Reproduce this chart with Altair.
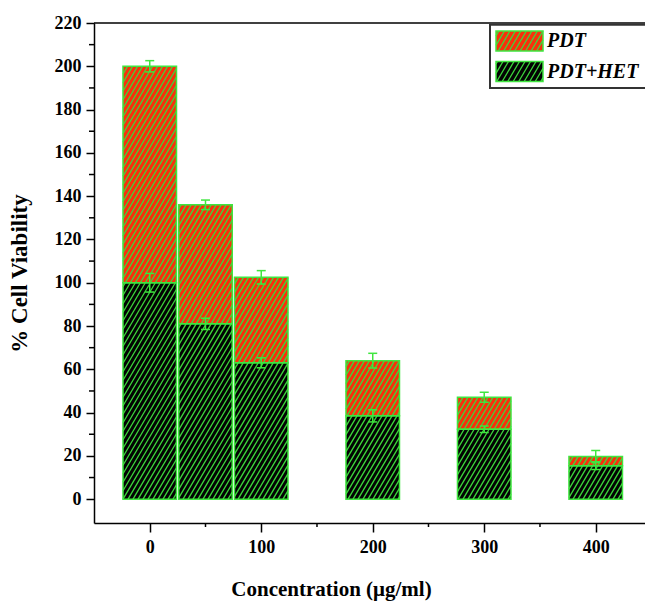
import math
import altair as alt
import pandas as pd

# ---------------- data ----------------
concentrations = [0, 50, 100, 200, 300, 400]
het_values = [100, 81, 63, 38.5, 32.3, 15.5]      # PDT+HET (lower, dark green)
het_errors = [4.3, 2.6, 2.3, 2.8, 1.5, 1.8]
pdt_values = [100, 55, 39.5, 25.5, 14.8, 4.2]     # PDT (stacked on top, red)
pdt_errors = [2.6, 2.2, 3.1, 3.4, 2.3, 2.8]
series_names = ["PDT", "PDT+HET"]
x_ticks = [0, 100, 200, 300, 400]
x_minor = [50, 150, 250, 350]
y_ticks = list(range(0, 221, 20))
y_minor = list(range(10, 211, 20))

# ---------------- layout / style ----------------
LEFT, TOP, W, H, BOTTOM = 94, 23, 551, 500, 80
XMIN, XMAX = -50, 444.2
YMIN, YMAX = -11, 220
KX = W / (XMAX - XMIN)
KY = H / (YMAX - YMIN)
HALF = 24
RED = "#f8300c"
DARK = "#030303"
GREEN = "#3fe63f"
HATCH = "#3cd83c"
FONT = "Liberation Serif"

X_SCALE = alt.Scale(domain=[XMIN, XMAX], nice=False, zero=False)
Y_SCALE = alt.Scale(domain=[YMIN, YMAX], nice=False, zero=False)


def px_to_x(px):
    return XMIN + (px - LEFT) / KX


def py_to_y(py):
    return YMIN + (TOP + H - py) / KY


def hatch(xa, xb, ya, yb, d, s=1.7):
    u0, u1 = (xa - XMIN) * KX, (xb - XMIN) * KX
    v0, v1 = (ya - YMIN) * KY, (yb - YMIN) * KY
    out = []
    for k in range(math.floor((u0 - v1 / s) / d), math.ceil((u1 - v0 / s) / d) + 1):
        c = k * d
        vlo = max(v0, s * (u0 - c))
        vhi = min(v1, s * (u1 - c))
        if vhi - vlo > 0.5:
            out.append({
                "hx": (c + vlo / s) / KX + XMIN, "hy": vlo / KY + YMIN,
                "hx2": (c + vhi / s) / KX + XMIN, "hy2": vhi / KY + YMIN,
            })
    return out


seg_rows = []
for c, h, p in zip(concentrations, het_values, pdt_values):
    seg_rows.append({"x0": c - HALF, "x1": c + HALF, "y0": 0, "y1": h, "series": series_names[1]})
    seg_rows.append({"x0": c - HALF, "x1": c + HALF, "y0": h, "y1": h + p, "series": series_names[0]})

sw = [
    {"x0": px_to_x(496), "x1": px_to_x(543), "y0": py_to_y(51), "y1": py_to_y(31), "series": series_names[0]},
    {"x0": px_to_x(496), "x1": px_to_x(543), "y0": py_to_y(81.5), "y1": py_to_y(61.5), "series": series_names[1]},
]
segs = pd.DataFrame(seg_rows + sw)

hatch_rows = []
for r in seg_rows:
    hatch_rows += hatch(r["x0"], r["x1"], r["y0"], r["y1"], 5.0)
for r in sw:
    hatch_rows += hatch(r["x0"], r["x1"], r["y0"], r["y1"], 5.5)
hatch_df = pd.DataFrame(hatch_rows)

err_rows = []
for c, h, he, p, pe in zip(concentrations, het_values, het_errors, pdt_values, pdt_errors):
    err_rows.append({"c": c, "lo": h - he, "hi": h + he})
    err_rows.append({"c": c, "lo": h + p - pe, "hi": h + p + pe})
err = pd.DataFrame(err_rows)

color_scale = alt.Scale(domain=series_names, range=[RED, DARK])

y_axis = alt.Axis(
    values=y_ticks, grid=False, tickSize=8, tickWidth=1.5, tickColor="black",
    domainColor="black", domainWidth=1.5, labelPadding=5, labelFont=FONT,
    labelFontSize=18, labelFontWeight="bold", labelColor="black",
    title="% Cell Viability", titleFont=FONT, titleFontSize=23, titleFontWeight="bold",
    titleColor="black", titleX=-75, titleY=H / 2, titleAngle=270,
    titleAlign="center", titleBaseline="middle",
)
x_axis = alt.Axis(
    values=x_ticks, grid=False, tickSize=9, tickWidth=1.5, tickColor="black",
    domainColor="black", domainWidth=1.5, labelPadding=6, labelFont=FONT,
    labelFontSize=18, labelFontWeight="bold", labelColor="black", labelFlush=False,
    title="Concentration (μg/ml)", titleFont=FONT, titleFontSize=21, titleFontWeight="bold",
    titleColor="black", titleX=237, titleY=66, titleAlign="center", titleBaseline="middle",
)


def X(field):
    return alt.X(field, scale=X_SCALE, axis=x_axis)


def Y(field):
    return alt.Y(field, scale=Y_SCALE, axis=y_axis)


base_seg = alt.Chart(segs)
one = pd.DataFrame({"a": [0]})

legend_box = alt.Chart(one).mark_rect(fill="white", stroke="#333333", strokeWidth=2).encode(
    x=alt.value(490 - LEFT), x2=alt.value(760 - LEFT),
    y=alt.value(24.7 - TOP), y2=alt.value(88 - TOP),
)

fills = base_seg.mark_rect().encode(
    x=X("x0:Q"), x2="x1:Q", y=Y("y0:Q"), y2="y1:Q",
    fill=alt.Fill("series:N", scale=color_scale, legend=None),
)

hatches = alt.Chart(hatch_df).mark_rule(color=HATCH, strokeWidth=1.3).encode(
    x=X("hx:Q"), x2="hx2:Q", y=Y("hy:Q"), y2="hy2:Q",
)

outlines = base_seg.mark_rect(fillOpacity=0, stroke=GREEN, strokeWidth=1.5).encode(
    x=X("x0:Q"), x2="x1:Q", y=Y("y0:Q"), y2="y1:Q",
)

err_lines = alt.Chart(err).mark_rule(color=GREEN, strokeWidth=1.5).encode(
    x=X("c:Q"), y=Y("lo:Q"), y2="hi:Q",
)
cap_lo = alt.Chart(err).mark_point(shape="M-1,0L1,0", size=81, filled=False, color=GREEN, strokeWidth=1.5, opacity=1).encode(
    x=X("c:Q"), y=Y("lo:Q"),
)
cap_hi = alt.Chart(err).mark_point(shape="M-1,0L1,0", size=81, filled=False, color=GREEN, strokeWidth=1.5, opacity=1).encode(
    x=X("c:Q"), y=Y("hi:Q"),
)

y_minor_ticks = alt.Chart(pd.DataFrame({"v": y_minor})).mark_rule(color="black", strokeWidth=1.5).encode(
    y=Y("v:Q"), x=alt.value(-5), x2=alt.value(0),
)
x_minor_ticks = alt.Chart(pd.DataFrame({"v": x_minor})).mark_rule(color="black", strokeWidth=1.5).encode(
    x=X("v:Q"), y=alt.value(H), y2=alt.value(H + 4),
)
top_line = alt.Chart(one).mark_rule(color="black", strokeWidth=1.5).encode(
    x=alt.value(0), x2=alt.value(W), y=alt.value(0),
)

legend_text1 = alt.Chart(one).mark_text(
    text=series_names[0], font=FONT, fontSize=20, fontWeight="bold", fontStyle="italic",
    align="left", baseline="middle", color="black",
).encode(x=alt.value(547 - LEFT), y=alt.value(41 - TOP))
legend_text2 = alt.Chart(one).mark_text(
    text=series_names[1], font=FONT, fontSize=20, fontWeight="bold", fontStyle="italic",
    align="left", baseline="middle", color="black",
).encode(x=alt.value(547 - LEFT), y=alt.value(71.5 - TOP))

chart = alt.layer(
    top_line, legend_box, fills, hatches, outlines, err_lines, cap_lo, cap_hi,
    y_minor_ticks, x_minor_ticks, legend_text1, legend_text2,
).properties(
    width=W, height=H,
    autosize=alt.AutoSizeParams(type="none"),
    padding={"left": LEFT, "top": TOP, "right": 0, "bottom": BOTTOM},
    background="white",
).configure_view(stroke=None)

chart.save("out.html", embed_options={"renderer": "svg", "actions": False})
